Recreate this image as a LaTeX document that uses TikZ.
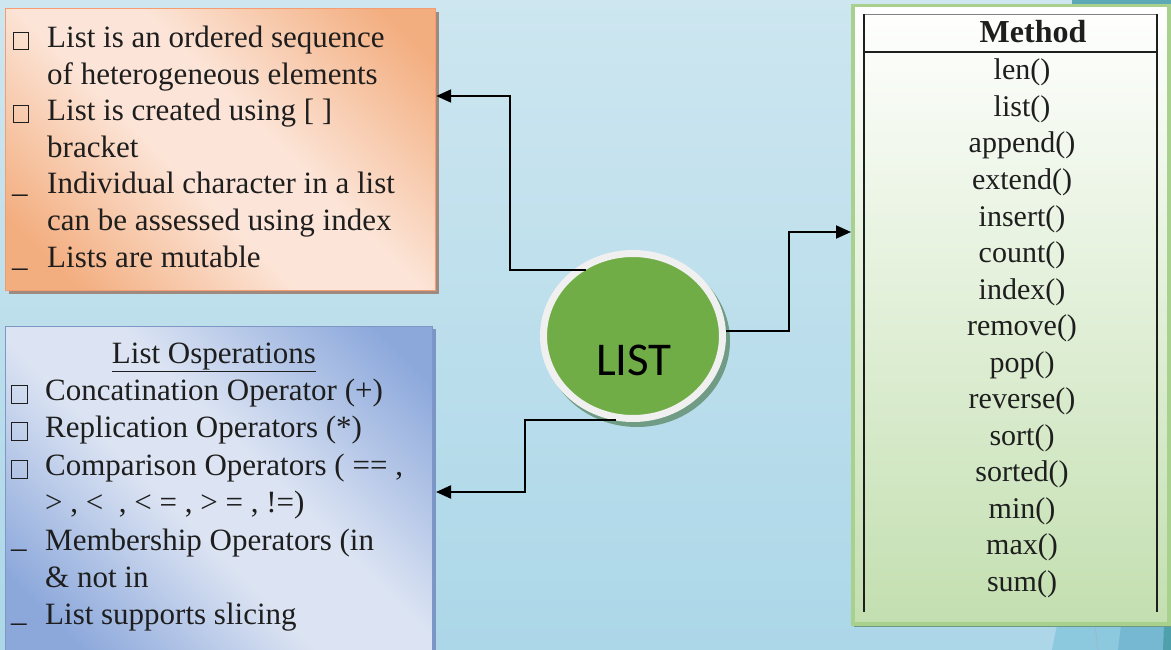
\documentclass[tikz,border=0pt]{standalone}
\usepackage{fontspec}
\setmainfont{Liberation Serif}
\newfontfamily\calib{Carlito}
\usetikzlibrary{shapes.geometric,arrows.meta,calc}
\definecolor{bgtop}{HTML}{CDE6F0}
\definecolor{bgbot}{HTML}{ACD7E8}
\definecolor{or1}{HTML}{F3AE80}
\definecolor{or2}{HTML}{FCE5D8}
\definecolor{bl1}{HTML}{8CA8DB}
\definecolor{bl2}{HTML}{DCE4F3}
\definecolor{gr1}{HTML}{C3DFB0}
\definecolor{grb}{HTML}{A9D18E}
\definecolor{lgreen}{HTML}{70AD47}
\definecolor{txt}{HTML}{1E1E1E}
\pgfdeclareverticalshading{oband}{100bp}{color(0bp)=(or1); color(22bp)=(or1); color(44bp)=(or2); color(56bp)=(or2); color(80bp)=(or1); color(100bp)=(or1)}
\pgfdeclareverticalshading{bband}{100bp}{color(0bp)=(bl1); color(22bp)=(bl1); color(44bp)=(bl2); color(56bp)=(bl2); color(80bp)=(bl1); color(100bp)=(bl1)}
\begin{document}
\begin{tikzpicture}[x=1pt,y=-1pt,
  tx/.style={font=\fontsize{31}{36}\selectfont, text=txt, inner sep=0pt},
  mtx/.style={font=\fontsize{30}{36}\selectfont, text=txt, inner sep=0pt, anchor=base},
  sqb/.style={draw=txt, line width=0.9pt, minimum width=15pt, minimum height=17pt, inner sep=0pt},
  obox/.style={draw=or1!90!red, line width=1.2pt, shading=oband, shading angle=-45, inner sep=0pt},
  bbox/.style={draw=bl1!90!black, line width=1pt, shading=bband, shading angle=-45, inner sep=0pt},
  gbox/.style={draw=grb, line width=3.5pt, top color=white, bottom color=gr1, inner sep=0pt},
  arr/.style={line width=2pt, -{Triangle[length=15pt,width=13pt]}}]
\useasboundingbox (0,0) rectangle (1171,650);
% background
\fill[top color=bgtop, bottom color=bgbot] (0,0) rectangle (1171,650);
\fill[color={rgb,255:red,140;green,200;blue,222}] (1052,650) -- (1057,625) -- (1171,625) -- (1171,650) -- cycle;
\fill[color={rgb,255:red,118;green,184;blue,210}] (1118,650) -- (1121,625) -- (1171,625) -- (1171,650) -- cycle;
\fill[color={rgb,255:red,78;green,160;blue,170}] (1163,650) -- (1164,625) -- (1171,625) -- (1171,650) -- cycle;
\draw[color={rgb,255:red,160;green,184;blue,200}, line width=0.8pt] (1095,625) -- (1098,650);
\fill[color={rgb,255:red,93;green,170;blue,182}] (1072,0) rectangle (1171,4);
% shadows
\fill[color={rgb,255:red,158;green,138;blue,126}] (9,12) rectangle (439,294);
\fill[color={rgb,255:red,123;green,150;blue,198}] (9,329) rectangle (436,650);
\fill[color={rgb,255:red,110;green,152;blue,130}] (854,8) rectangle (1171,627);
% boxes
\node[obox, anchor=north west, minimum width=430, minimum height=282] (orange) at (5,8) {};
\node[bbox, anchor=north west, minimum width=427, minimum height=326] (blue) at (5,326) {};
\node[gbox, anchor=north west, minimum width=316, minimum height=618] (green) at (851,4) {};
% orange text
\foreach \t [count=\i] in {List is an ordered sequence, of heterogeneous elements, List is created using [ ], bracket, Individual character in a list, can be assessed using index, Lists are mutable}
  \node[tx, anchor=base west] (ot\i) at (47,{48+(\i-1)*36.5}) {\t};
\node[sqb] (ob1) at (20.5,41) {};
\node[sqb] (ob2) at (20.5,114) {};
\node[tx, anchor=base west] (ou1) at (12,193) {\_};
\node[tx, anchor=base west] (ou2) at (12,266) {\_};
% blue text
\node[tx, anchor=base] (btitle) at (214,363) {\underline{List Osperations}};
\foreach \t [count=\i] in {Concatination Operator (+), Replication Operators (*), {Comparison Operators ( == ,}, {> , < \ , < = , > = , !=)}, Membership Operators (in, \& not in, List supports slicing}
  \node[tx, anchor=base west] (bt\i) at (45,{363+\i*37.4}) {\t};
\node[sqb, minimum width=16, minimum height=18] (bb1) at (19,394) {};
\node[sqb, minimum width=16, minimum height=18] (bb2) at (19,431.5) {};
\node[sqb, minimum width=16, minimum height=18] (bb3) at (19,469) {};
\node[tx, anchor=base west] (bu1) at (11,547) {\_};
\node[tx, anchor=base west] (bu2) at (11,621) {\_};
% method table
\draw[line width=1.3pt, color=gray] (864,14.5) -- (1157,14.5);
\draw[line width=1.3pt, color=txt] (864,52) -- (1157,52);
\draw[line width=1.3pt, color=txt] (864,14.5) -- (864,612);
\draw[line width=1.3pt, color=txt] (1157,14.5) -- (1157,612);
\node[mtx, font=\fontsize{32}{36}\bfseries] (mhead) at (1033,43) {Method};
\foreach \t [count=\i] in {len(), list(), append(), extend(), insert(), count(), index(), remove(), pop(), reverse(), sort(), sorted(), min(), max(), sum()}
  \node[mtx] (m\i) at (1022,{80+(\i-1)*36.5}) {\t};
% circle
\fill[color={rgb,255:red,112;green,155;blue,132}] (637,341) ellipse [x radius=93, y radius=86];
\node[ellipse, draw={rgb,255:red,240;green,240;blue,240}, line width=7pt, fill=lgreen, minimum width=179, minimum height=165, inner sep=0pt] (circ) at (633,336) {};
\node[font=\calib\fontsize{47}{50}\selectfont, anchor=base, inner sep=0pt] (listtxt) at (634,375) {LIST};
% connectors
\draw[arr] ($(circ.center)+(-47,-66)$) -- ++(-76,0) |- ($(orange.north east)+(0,88)$);
\draw[arr] ($(circ.center)+(93,-5)$) -- ++(63,0) |- ($(green.north west)+(0,228)$);
\draw[arr] ($(circ.center)+(-17,84)$) -- ++(-91,0) |- ($(blue.north east)+(3,166)$);
\end{tikzpicture}
\end{document}
